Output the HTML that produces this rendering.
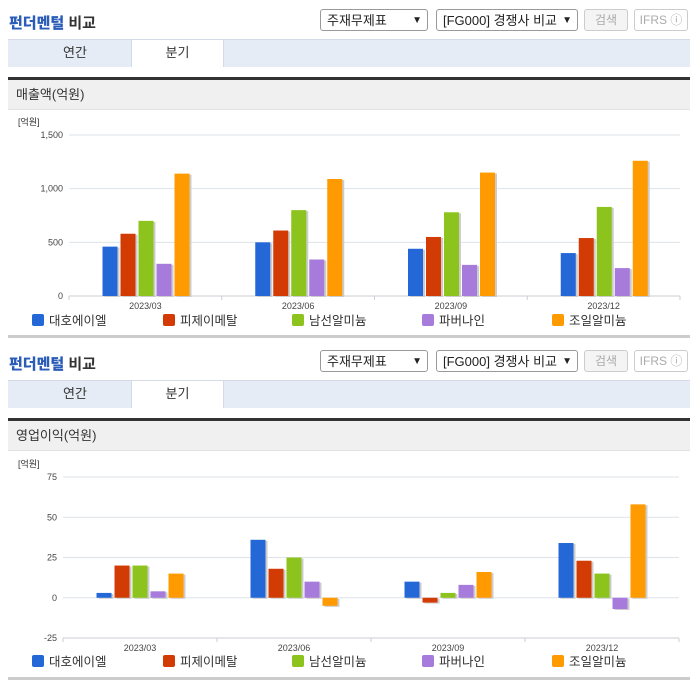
<!DOCTYPE html>
<html><head><meta charset="utf-8"><style>
body{margin:0;width:696px;height:684px;background:#fff;font-family:"Liberation Sans","Noto Sans CJK KR",sans-serif;position:relative;overflow:hidden}
.a{position:absolute}
.title{font-size:15px;font-weight:bold;color:#333}
.title b{color:#2a5cb8}
.sel{border:1px solid #999;border-radius:3px;background:#fff;font-size:13px;height:22px;line-height:22px;padding-left:6px;box-sizing:border-box;color:#222}
.sel span{position:absolute;right:5px;top:0;font-size:10px}
.btn{border:1px solid #ccc;border-radius:3px;font-size:12px;color:#aaa;text-align:center;height:22px;line-height:20px;box-sizing:border-box;background:#f4f4f4}
.tabs{left:8px;width:682px;height:28px;background:#e6ecf5;border-top:1px solid #d4dbe6;box-sizing:border-box}
.tab{font-size:13px;color:#333;text-align:center;line-height:26px;height:27px}
.dark{left:8px;width:682px;height:3px;background:#333}
.hdr{left:8px;width:682px;height:30px;background:#f0f0f0;font-size:13px;color:#333;line-height:30px;padding-left:8px;box-sizing:border-box;border-bottom:1px solid #e2e2e2}
.bot{left:8px;width:682px;height:3px;background:#ccc}
</style></head><body>
<div class="a" style="left:0;top:0;width:696px;height:341px">
<div class="a title" style="left:9px;top:12px"><b>펀더멘털</b> 비교</div>
<div class="a sel" style="left:320px;top:9px;width:108px">주재무제표<span>▼</span></div>
<div class="a sel" style="left:436px;top:9px;width:142px">[FG000] 경쟁사 비교<span>▼</span></div>
<div class="a btn" style="left:584px;top:9px;width:44px">검색</div>
<div class="a btn" style="left:634px;top:9px;width:54px;background:#fff">IFRS ⓘ</div>
<div class="a tabs" style="top:39px"></div>
<div class="a tab" style="left:20px;top:40px;width:110px">연간</div>
<div class="a tab" style="left:131px;top:40px;width:91px;background:#fff;border-left:1px solid #d4dbe6;border-right:1px solid #d4dbe6">분기</div>
<div class="a dark" style="top:77px"></div>
<div class="a hdr" style="top:80px">매출액(억원)</div>
<svg id="c1" class="a" style="left:0;top:110px" width="696" height="228"></svg>
<div class="a bot" style="top:335px"></div>
</div>
<div class="a" style="left:0;top:341px;width:696px;height:343px">
<div class="a title" style="left:9px;top:12px"><b>펀더멘털</b> 비교</div>
<div class="a sel" style="left:320px;top:9px;width:108px">주재무제표<span>▼</span></div>
<div class="a sel" style="left:436px;top:9px;width:142px">[FG000] 경쟁사 비교<span>▼</span></div>
<div class="a btn" style="left:584px;top:9px;width:44px">검색</div>
<div class="a btn" style="left:634px;top:9px;width:54px;background:#fff">IFRS ⓘ</div>
<div class="a tabs" style="top:39px"></div>
<div class="a tab" style="left:20px;top:40px;width:110px">연간</div>
<div class="a tab" style="left:131px;top:40px;width:91px;background:#fff;border-left:1px solid #d4dbe6;border-right:1px solid #d4dbe6">분기</div>
<div class="a dark" style="top:77px"></div>
<div class="a hdr" style="top:80px">영업이익(억원)</div>
<svg id="c2" class="a" style="left:0;top:110px" width="696" height="228"></svg>
<div class="a bot" style="top:336px"></div>
</div>
<script>
const categories=["2023/03","2023/06","2023/09","2023/12"];
const companies=["대호에이엘","피제이메탈","남선알미늄","파버나인","조일알미늄"];
const revDaeho=[460,500,440,400];
const revPJ=[580,610,550,540];
const revNamsun=[700,800,780,830];
const revFaber=[300,340,290,260];
const revJoil=[1140,1090,1150,1260];
const revTicks=[0,500,1000,1500];
const revTickLabels=["0","500","1,000","1,500"];
const opDaeho=[3,36,10,34];
const opPJ=[20,18,-3,23];
const opNamsun=[20,25,3,15];
const opFaber=[4,10,8,-7];
const opJoil=[15,-5,16,58];
const opTicks=[-25,0,25,50,75];
const opTickLabels=["-25","0","25","50","75"];
const colors=["#2468d8","#d23c04","#8cc31c","#a77bdc","#ff9a00"];
const NS="http://www.w3.org/2000/svg";
function mk(svg,tag,at,txt){const e=document.createElementNS(NS,tag);for(const k in at)e.setAttribute(k,at[k]);if(txt!==undefined)e.textContent=txt;svg.appendChild(e);return e;}
function draw(id,series,ticks,labels,x0,x1,yTop,yBot,lo,hi,lblY,legY){
 const svg=document.getElementById(id);
 const y=v=>yBot-(v-lo)/(hi-lo)*(yBot-yTop);
 const gw=(x1-x0)/categories.length;
 const yl=mk(svg,"text",{x:18,y:yTop-10,"font-size":9,fill:"#333"},"[억원]");
 
 
 ticks.forEach((t,i)=>{
  const g=mk(svg,"line",{x1:x0,x2:x1,y1:y(t),y2:y(t),stroke:"#dde3ea"});
  
  
  const l=mk(svg,"text",{x:x0-6,y:y(t)+3,"font-size":9,fill:"#444","text-anchor":"end"},labels[i]);
  
  
 });
 const ax=mk(svg,"line",{x1:x0,x2:x1,y1:yBot,y2:yBot,stroke:"#c8ced6"});
 
 
 for(let c=0;c<=categories.length;c++){
  const tk=mk(svg,"line",{x1:x0+c*gw,x2:x0+c*gw,y1:yBot,y2:yBot+4,stroke:"#c8ced6"});
  
  
 }
 const zero=y(Math.max(lo,0));
 categories.forEach((cat,c)=>{
  const l=mk(svg,"text",{x:x0+c*gw+gw/2,y:lblY,"font-size":9,fill:"#444","text-anchor":"middle"},cat);
  
  
  series.forEach((s,k)=>{
   const bx=x0+c*gw+33.5+k*18;
   const yv=y(s[c]);
   const top=Math.min(yv,zero),h=Math.max(Math.abs(zero-yv),1);
   const sh=mk(svg,"rect",{x:bx+2,y:top+1,width:15,height:h,fill:"#ccc"});
   
   
   const r=mk(svg,"rect",{x:bx,y:top,width:15,height:h,fill:colors[k]});
   
   
  });
 });
 const lx=[32,163,292,422,552];
 companies.forEach((n,k)=>{
  const sq=mk(svg,"rect",{x:lx[k],y:legY-6,width:12,height:12,rx:2,fill:colors[k]});
  
  
  const t=mk(svg,"text",{x:lx[k]+17,y:legY+5,"font-size":12.5,fill:"#333"},n);
  
  
 });
}
draw("c1",[revDaeho,revPJ,revNamsun,revFaber,revJoil],revTicks,revTickLabels,69,680,25,186,0,1500,199,210);
draw("c2",[opDaeho,opPJ,opNamsun,opFaber,opJoil],opTicks,opTickLabels,63,679,26,187,-25,75,200,210);
</script>
</body></html>
